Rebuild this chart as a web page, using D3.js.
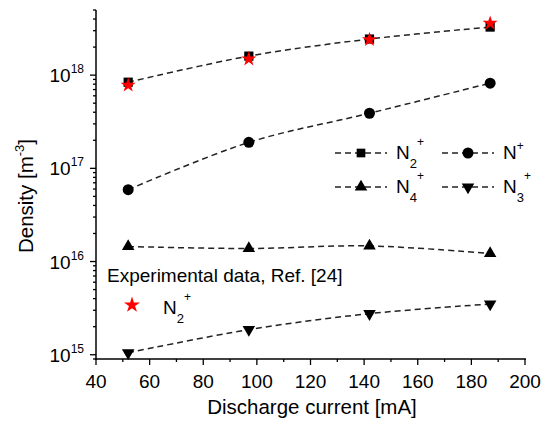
<!DOCTYPE html>
<html>
<head>
<meta charset="utf-8">
<title>Density vs discharge current</title>
<script src="https://cdn.jsdelivr.net/npm/d3@7"></script>
<style>
  body { margin: 0; background: #fff; }
  text { font-family: "Liberation Sans", Arial, sans-serif; }
</style>
</head>
<body>
<script>
// data
const current = [52, 97, 142, 187];
const n2plus = [8.4e17, 1.6e18, 2.44e18, 3.28e18];
const nplus = [5.9e16, 1.9e17, 3.9e17, 8.2e17];
const n4plus = [1.45e16, 1.38e16, 1.47e16, 1.22e16];
const n3plus = [1.05e15, 1.86e15, 2.76e15, 3.5e15];
const expN2plus = [7.8e17, 1.49e18, 2.4e18, 3.6e18];
const xTicks = [40, 60, 80, 100, 120, 140, 160, 180, 200];
const yTicks = [1e15, 1e16, 1e17, 1e18];

const w = 546, h = 421;
const mLeft = 96, mRight = 525, mTop = 10, mBottom = 359;

const svg = d3.select("body").append("svg")
  .attr("width", w).attr("height", h);

const x = d3.scaleLinear().domain([40, 200]).range([mLeft, mRight]);
const y = d3.scaleLog().domain([9e14, 5e18]).range([mBottom, mTop]);

// axes
const xAxis = svg.append("g").attr("transform", `translate(0,${mBottom})`);
xAxis.append("line").attr("x1", mLeft - 1).attr("x2", mRight + 1)
  .attr("stroke", "#000").attr("stroke-width", 1.5);
d3.range(40, 201, 10).forEach(v => {
  xAxis.append("line").attr("x1", x(v)).attr("x2", x(v))
    .attr("y1", 0).attr("y2", v % 20 === 0 ? 6 : 3)
    .attr("stroke", "#000").attr("stroke-width", 1.3);
});
xAxis.selectAll("text.tick").data(xTicks).join("text")
  .attr("class", "tick")
  .attr("x", d => x(d)).attr("y", 29)
  .attr("text-anchor", "middle").attr("font-size", 19)
  .text(d => d);

const yAxis = svg.append("g").attr("transform", `translate(${mLeft},0)`);
yAxis.append("line").attr("y1", mTop).attr("y2", mBottom + 1)
  .attr("stroke", "#000").attr("stroke-width", 1.5);
const minor = [];
[1e14, 1e15, 1e16, 1e17, 1e18].forEach(d => {
  for (let k = 1; k <= 9; k++) {
    const v = d * k;
    if (v >= 9e14 && v <= 5e18) minor.push(v);
  }
});
minor.forEach(v => {
  const major = yTicks.includes(v);
  yAxis.append("line").attr("x1", major ? -6 : -3).attr("x2", 0)
    .attr("y1", y(v)).attr("y2", y(v))
    .attr("stroke", "#000").attr("stroke-width", 1.3);
});
yTicks.forEach(v => {
  const t = yAxis.append("text").attr("x", -12).attr("y", y(v) + 7)
    .attr("text-anchor", "end").attr("font-size", 19);
  t.append("tspan").text("10");
  t.append("tspan").attr("dy", -9).attr("font-size", 12)
    .text(Math.round(Math.log10(v)));
});

// axis titles
svg.append("text").attr("x", 312).attr("y", 414)
  .attr("text-anchor", "middle").attr("font-size", 20.5)
  .text("Discharge current [mA]");
const yl = svg.append("text")
  .attr("transform", `translate(33,196) rotate(-90)`)
  .attr("text-anchor", "middle").attr("font-size", 20.5);
yl.append("tspan").text("Density [m");
yl.append("tspan").attr("dy", -9).attr("font-size", 13).text("-3");
yl.append("tspan").attr("dy", 9).text("]");

// series lines
const line = d3.line().x(d => x(d[0])).y(d => y(d[1]))
  .curve(d3.curveCatmullRom.alpha(0.5));
const seriesList = [
  { vals: n2plus, sym: d3.symbolSquare, size: 85, rot: 0 },
  { vals: nplus, sym: d3.symbolCircle, size: 95, rot: 0 },
  { vals: n4plus, sym: d3.symbolTriangle, size: 68, rot: 0 },
  { vals: n3plus, sym: d3.symbolTriangle, size: 68, rot: 180 }
];
seriesList.forEach(s => {
  const pts = current.map((c, i) => [c, s.vals[i]]);
  svg.append("path").attr("d", line(pts))
    .attr("fill", "none").attr("stroke", "#222")
    .attr("stroke-width", 1.5).attr("stroke-dasharray", "6,4");
  svg.selectAll(null).data(pts).join("path")
    .attr("d", d3.symbol(s.sym, s.size))
    .attr("transform", d => `translate(${x(d[0])},${y(d[1])}) rotate(${s.rot})`)
    .attr("fill", "#000");
});

// experimental stars
svg.selectAll("path.star").data(current.map((c, i) => [c, expN2plus[i]])).join("path")
  .attr("class", "star")
  .attr("d", d3.symbol(d3.symbolStar, 70))
  .attr("transform", d => `translate(${x(d[0])},${y(d[1])})`)
  .attr("fill", "#f00");

// legend
function legendItem(lx, ly, sym, size, rot, label, sub) {
  svg.append("line").attr("x1", lx).attr("x2", lx + 52)
    .attr("y1", ly).attr("y2", ly)
    .attr("stroke", "#222").attr("stroke-width", 1.5).attr("stroke-dasharray", "6,4");
  svg.append("path").attr("d", d3.symbol(sym, size))
    .attr("transform", `translate(${lx + 26},${ly}) rotate(${rot})`)
    .attr("fill", "#000");
  const t = svg.append("text").attr("x", lx + 61).attr("y", ly + 6)
    .attr("font-size", 19);
  t.append("tspan").text(label);
  if (sub) {
    t.append("tspan").attr("dy", 9).attr("font-size", 13).text(sub);
    t.append("tspan").attr("dy", -22).attr("font-size", 12).text("+");
  } else {
    t.append("tspan").attr("dy", -9).attr("font-size", 12).text("+");
  }
}
legendItem(335, 153, d3.symbolSquare, 75, 0, "N", "2");
legendItem(442, 153, d3.symbolCircle, 95, 0, "N", null);
legendItem(335, 187, d3.symbolTriangle, 68, 0, "N", "4");
legendItem(442, 187, d3.symbolTriangle, 68, 180, "N", "3");

svg.append("text").attr("x", 107).attr("y", 282).attr("font-size", 19)
  .text("Experimental data, Ref. [24]");
svg.append("path").attr("d", d3.symbol(d3.symbolStar, 80))
  .attr("transform", "translate(132,305)").attr("fill", "#f00");
const et = svg.append("text").attr("x", 163).attr("y", 314).attr("font-size", 19);
et.append("tspan").text("N");
et.append("tspan").attr("dy", 9).attr("font-size", 13).text("2");
et.append("tspan").attr("dy", -22).attr("font-size", 12).text("+");
</script>
</body>
</html>
